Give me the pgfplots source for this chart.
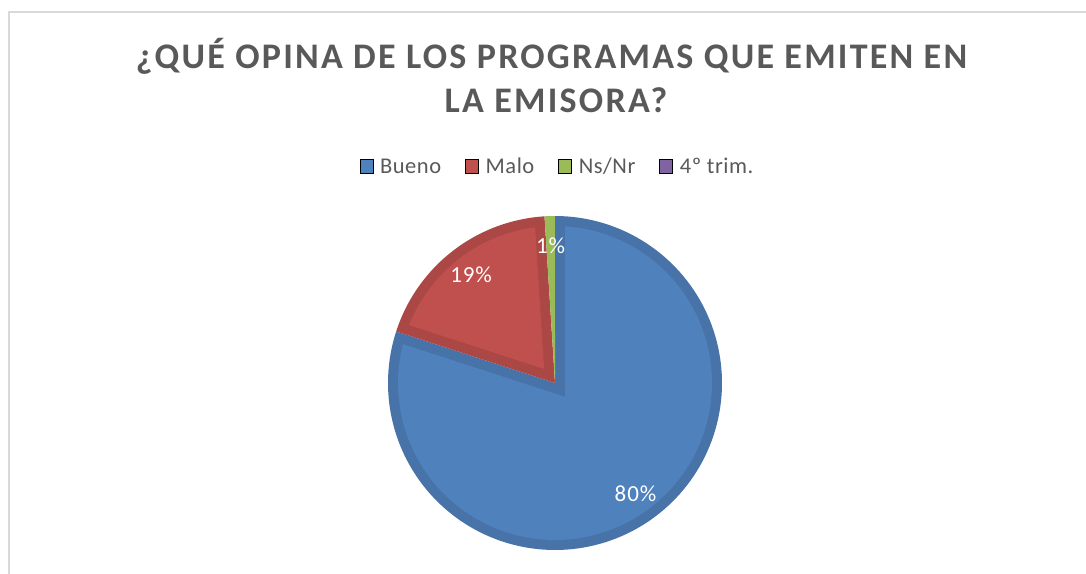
\documentclass[border=0pt]{standalone}
\usepackage{fontspec}
\setmainfont{Carlito}
\newfontfamily\titlefont[LetterSpace=6.2]{Carlito}
\newfontfamily\labfont[LetterSpace=4]{Carlito}
\newfontfamily\legfont[LetterSpace=2.5]{Carlito}
\usepackage{pgfplots}
\usepackage{pgfplotstable}
\pgfplotsset{compat=1.18}
\definecolor{cBlue}{HTML}{4F81BD}
\definecolor{dBlue}{HTML}{4773A9}
\definecolor{cRed}{HTML}{C0504D}
\definecolor{dRed}{HTML}{AB4744}
\definecolor{cGreen}{HTML}{9BBB59}
\definecolor{dGreen}{HTML}{8CA84F}
\definecolor{cPurple}{HTML}{8064A2}
\definecolor{txt}{HTML}{595959}
\definecolor{frame}{HTML}{D9D9D9}

\pgfplotstableread{
label value
Bueno 80
Malo 19
NsNr 1
Trim 0
}\piedata

% inner border width and inner radius (relative to pie radius 1)
\def\pw{0.06}
\def\pri{0.94}

\newcommand\drawslice[5]{% start angle, end angle, main colour, border colour, label
  \pgfmathsetmacro\sH{(#1-#2)/2}%
  \pgfmathsetmacro\sM{(#1+#2)/2}%
  \pgfmathsetmacro\sD{\pw/sin(\sH)}%
  \pgfmathsetmacro\sDel{asin(\pw/\pri)}%
  \pgfmathsetmacro\sLo{#2+\sDel}%
  \pgfmathsetmacro\sHi{#1-\sDel}%
  \pgfmathsetmacro\sVx{\sD*cos(\sM)}%
  \pgfmathsetmacro\sVy{\sD*sin(\sM)}%
  \pgfmathsetmacro\sLx{0.82*cos(\sM)}%
  \pgfmathsetmacro\sLy{0.82*sin(\sM)}%
  \pgfmathtruncatemacro\sBig{\sD<0.5 ? 1 : 0}%
  \ifnum\sBig=1
    \edef\doit{%
      \noexpand\addplot[fill=#4, draw=none, forget plot, domain=#2:#1, samples=150]
        ({cos(x)},{sin(x)}) -- (axis cs:0,0) -- cycle;
      \noexpand\addplot[fill=#3, draw=none, forget plot, domain=\sLo:\sHi, samples=150]
        ({\pri*cos(x)},{\pri*sin(x)}) -- (axis cs:\sVx,\sVy) -- cycle;
      \noexpand\node[font=\noexpand\labfont\noexpand\fontsize{23}{27}\noexpand\selectfont, text=white] at (axis cs:\sLx,\sLy) {#5};
    }%
  \else
    \edef\doit{%
      \noexpand\addplot[fill=#3, draw=none, forget plot, domain=#2:#1, samples=20]
        ({cos(x)},{sin(x)}) -- (axis cs:0,0) -- cycle;
      \noexpand\node[font=\noexpand\labfont\noexpand\fontsize{23}{27}\noexpand\selectfont, text=white] at (axis cs:\sLx,\sLy) {#5};
    }%
  \fi
  \doit
}

\begin{document}
\begin{tikzpicture}[x=1pt,y=1pt]
\useasboundingbox (0,0) rectangle (1086,573);
\fill[white] (0,0) rectangle (1086,573);
\draw[frame, line width=2pt] (9,-5) -- (9,560.5) -- (1095,560.5);

\node[anchor=base, text=txt, font=\titlefont\bfseries\fontsize{36}{43}\selectfont] at (551.5,504) {¿QUÉ OPINA DE LOS PROGRAMAS QUE EMITEN EN};
\node[anchor=base, text=txt, font=\titlefont\bfseries\fontsize{36}{43}\selectfont] at (556,460) {LA EMISORA?};

\pgfplotstablegetelem{0}{value}\of\piedata \let\vA\pgfplotsretval
\pgfplotstablegetelem{1}{value}\of\piedata \let\vB\pgfplotsretval
\pgfplotstablegetelem{2}{value}\of\piedata \let\vC\pgfplotsretval
\pgfplotstablegetelem{3}{value}\of\piedata \let\vD\pgfplotsretval
\pgfmathsetmacro\T{\vA+\vB+\vC+\vD}
\pgfmathsetmacro\aA{90}
\pgfmathsetmacro\aB{\aA-360*(\vA/\T)}
\pgfmathsetmacro\aC{\aB-360*(\vB/\T)}
\pgfmathsetmacro\aD{\aC-360*(\vC/\T)}

\begin{axis}[
  at={(555pt,190pt)}, anchor=center,
  hide axis, scale only axis,
  width=334pt, height=334pt,
  xmin=-1, xmax=1, ymin=-1, ymax=1,
  clip=false,
  legend columns=4,
  legend image code/.code={\fill[#1] (0pt,0pt) rectangle (13pt,14pt);},
  legend style={
    at={(0.5075,1.1497)}, anchor=center,
    draw=none, fill=none, inner sep=0pt,
    font=\legfont\fontsize{22.5}{26}\selectfont, text=txt,
    cells={anchor=base west},
    /tikz/every odd column/.append style={column sep=5pt},
    /tikz/every even column/.append style={column sep=22pt},
  },
]
\addlegendimage{fill=cBlue}
\addlegendimage{fill=cRed}
\addlegendimage{fill=cGreen}
\addlegendimage{fill=cPurple}
\legend{Bueno, Malo, Ns/Nr, 4º trim.}

\drawslice{\aA}{\aB}{cBlue}{dBlue}{\vA\%}
\drawslice{\aB}{\aC}{cRed}{dRed}{\vB\%}
\drawslice{\aC}{\aD}{cGreen}{dGreen}{\vC\%}
\end{axis}
\end{tikzpicture}
\end{document}
